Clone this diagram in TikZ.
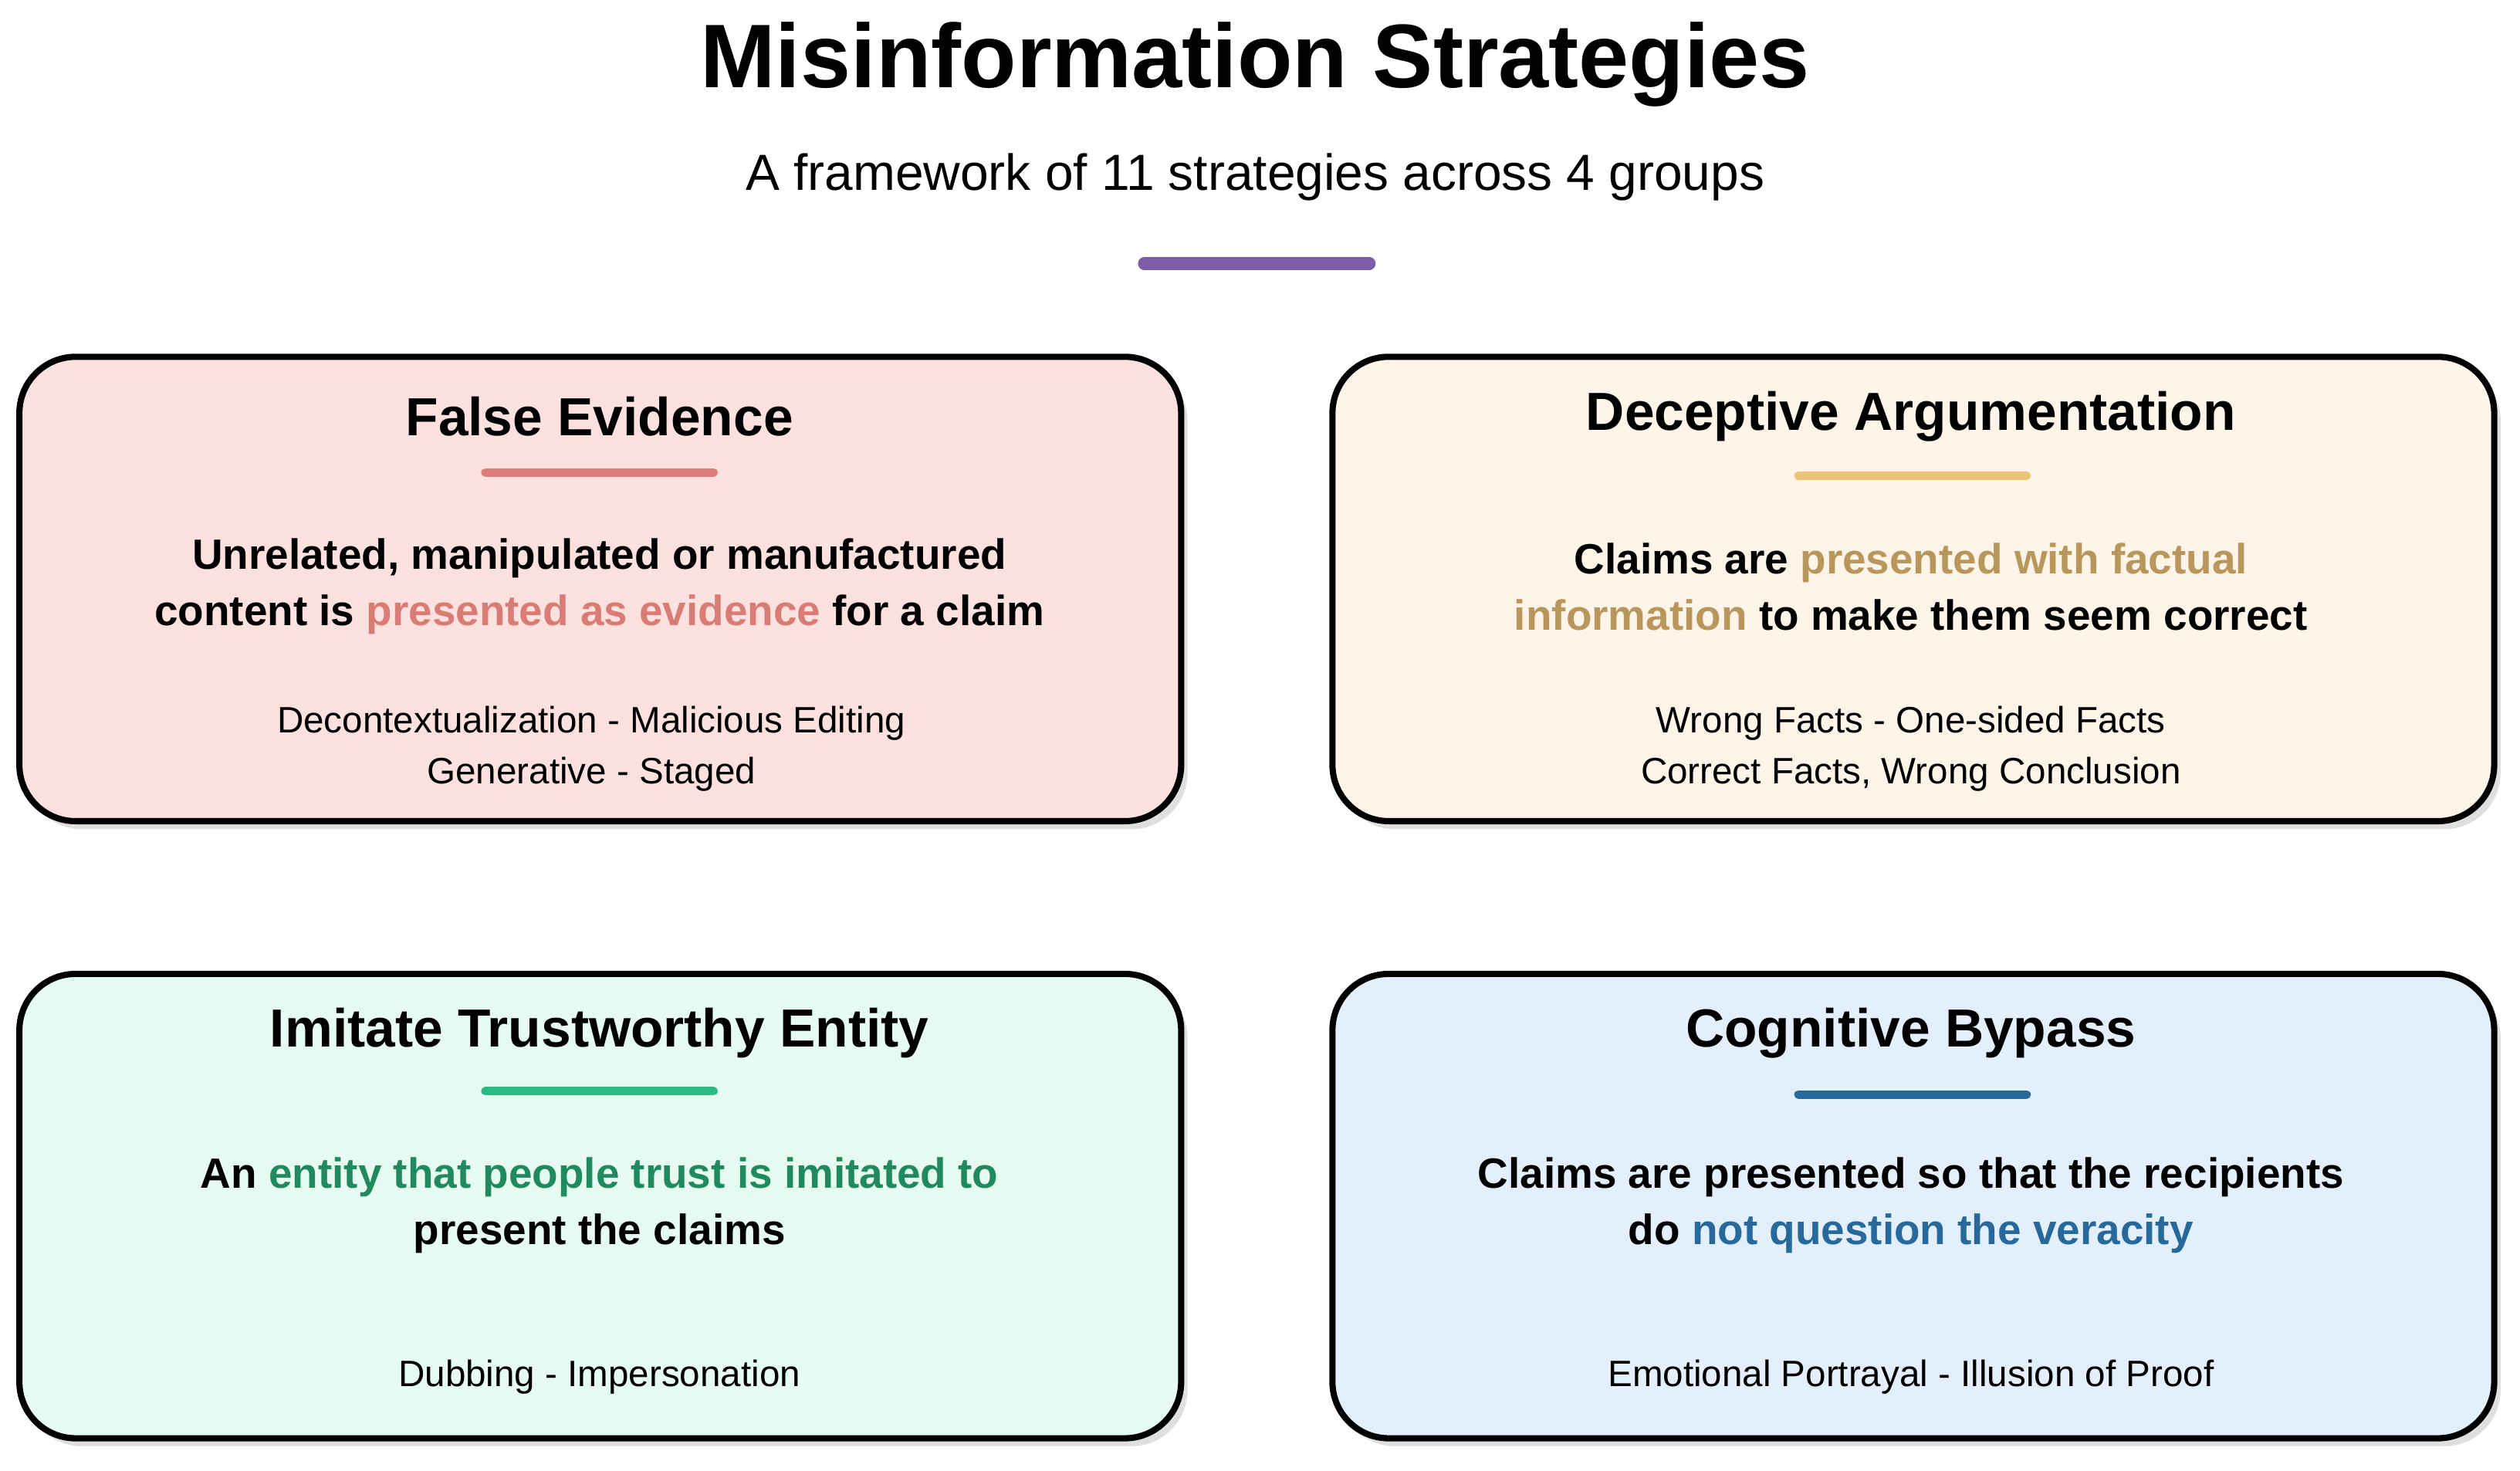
\documentclass[tikz,border=0pt]{standalone}
\usepackage{fontspec}
\setmainfont{Liberation Sans}
\usetikzlibrary{positioning,shadows}
\definecolor{feFill}{HTML}{FDE1DE}\definecolor{feLine}{HTML}{DC7F7A}\definecolor{feText}{HTML}{DA7C76}
\definecolor{daFill}{HTML}{FEF5E8}\definecolor{daLine}{HTML}{EAC477}\definecolor{daText}{HTML}{B9965C}
\definecolor{itFill}{HTML}{E6FBF1}\definecolor{itLine}{HTML}{2EB886}\definecolor{itText}{HTML}{21895E}
\definecolor{cbFill}{HTML}{E3EFFD}\definecolor{cbLine}{HTML}{26699A}\definecolor{cbText}{HTML}{26699A}
\definecolor{accent}{HTML}{7D5CA8}
\begin{document}
\begin{tikzpicture}[
    x=0.02cm, y=-0.02cm,
    group/.style={draw=black, line width=2.2pt, rounded corners=0.7cm,
        minimum width=14.46cm, minimum height=5.78cm,
        drop shadow={shadow xshift=0.08cm, shadow yshift=-0.1cm, opacity=0.25}},
    head/.style={font=\fontsize{19}{23}\selectfont\bfseries},
    bar/.style={line width=3pt, line cap=round},
    desc/.style={font=\fontsize{15}{20}\selectfont\bfseries, align=center},
    items/.style={font=\fontsize{13}{18}\selectfont, align=center}
]
\useasboundingbox (0,0) rectangle (1568,915);

% Title %
\node (title) at (781,40) {\fontsize{32}{38}\selectfont\bfseries Misinformation Strategies};
\node (sub) at (781,110) {\fontsize{18}{22}\selectfont A framework of 11 strategies across 4 groups};
\coordinate (accentL) at (712,164);
\coordinate (accentR) at (852,164);
\draw[accent, line width=4.5pt, line cap=round] (accentL) -- (accentR);

% False Evidence %
\node[group, fill=feFill] (fe) at (373.5,366.5) {};
\node[head] (feHead) at (373,259) {False Evidence};
\draw[bar, feLine] (302,294) -- (444,294);
\node[desc] (feDesc) at (373,365) {Unrelated, manipulated or manufactured\\content is \textcolor{feText}{presented as evidence} for a claim};
\node[items] (feItems) at (368,466) {Decontextualization - Malicious Editing\\Generative - Staged};

% Deceptive Argumentation %
\node[group, fill=daFill] (da) at (1190.5,366.5) {};
\node[head] (daHead) at (1189,259) {Deceptive Argumentation};
\draw[bar, daLine] (1119,296) -- (1261,296);
\node[desc] (daDesc) at (1189,365) {Claims are \textcolor{daText}{presented with factual}\\\textcolor{daText}{information} to make them seem correct};
\node[items] (daItems) at (1189,466) {Wrong Facts - One-sided Facts\\Correct Facts, Wrong Conclusion};

% Imitate Trustworthy Entity %
\node[group, fill=itFill] (it) at (373.5,750.5) {};
\node[head] (itHead) at (373,643) {Imitate Trustworthy Entity};
\draw[bar, itLine] (302,679) -- (444,679);
\node[desc] (itDesc) at (373,750) {An \textcolor{itText}{entity that people trust is imitated to}\\present the claims};
\node[items] (itItems) at (373,857) {Dubbing - Impersonation};

% Cognitive Bypass %
\node[group, fill=cbFill] (cb) at (1190.5,750.5) {};
\node[head] (cbHead) at (1189,643) {Cognitive Bypass};
\draw[bar, cbLine] (1119,681) -- (1261,681);
\node[desc] (cbDesc) at (1189,750) {Claims are presented so that the recipients\\do \textcolor{cbText}{not question the veracity}};
\node[items] (cbItems) at (1189,857) {Emotional Portrayal - Illusion of Proof};
\end{tikzpicture}
\end{document}
